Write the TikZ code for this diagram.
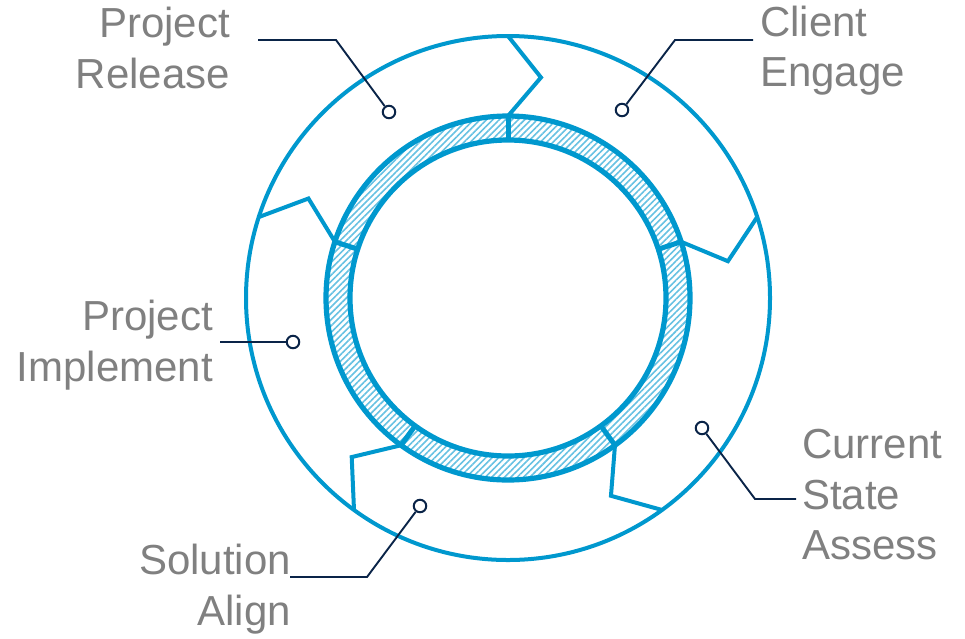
\documentclass[tikz,border=0pt]{standalone}
\usepackage{fontspec}
\setmainfont{Liberation Sans}
\usetikzlibrary{patterns.meta}
\definecolor{cblue}{RGB}{0,152,206}
\definecolor{navy}{RGB}{10,36,72}
\definecolor{tgray}{RGB}{128,128,128}
\tikzset{
  outerring/.style={draw=cblue, line width=4pt},
  ringline/.style={draw=cblue, line width=5.2pt},
  zig/.style={draw=cblue, line width=4pt, line join=miter},
  sepline/.style={draw=cblue, line width=5pt},
  hatch/.style={pattern={Lines[angle=45,distance=4.5pt,line width=1.6pt]}, pattern color=cblue!60},
  dot/.style={circle, draw=navy, fill=white, line width=2pt, minimum size=12.5pt, inner sep=0pt},
  callout/.style={draw=navy, line width=1.9pt},
  lbl/.style={text=tgray, font=\fontsize{42}{50}\selectfont, inner sep=0pt}
}
\begin{document}
\begin{tikzpicture}[x=1pt,y=-1pt]
\useasboundingbox (0,0) rectangle (965,638);
\begin{scope}[shift={(508,298)}]
  \fill[hatch, even odd rule] (0,0) circle (182pt) (0,0) circle (158pt);
  \draw[outerring] (0,0) circle (262pt);
  \draw[ringline] (0,0) circle (182pt);
  \draw[ringline] (0,0) circle (158pt);
  \foreach \a in {90,18,-54,-126,162} {
    \draw[zig] (-\a:182) -- (-\a+8.5:223) -- (-\a:262);
    \draw[sepline] (-\a:156) -- (-\a:184);
  }
\end{scope}
% callouts
\node[dot] (dRel) at (389,112) {};
\coordinate (kRel) at (336,40);
\coordinate (eRel) at (258,40);
\draw[callout] (dRel) -- (kRel) -- (eRel);
\node[dot] (dCli) at (622,110) {};
\coordinate (kCli) at (675,40);
\coordinate (eCli) at (753,40);
\draw[callout] (dCli) -- (kCli) -- (eCli);
\node[dot] (dImp) at (293,342) {};
\coordinate (eImp) at (220,342);
\draw[callout] (dImp) -- (eImp);
\node[dot] (dCur) at (702,428) {};
\coordinate (kCur) at (755,499);
\coordinate (eCur) at (796,499);
\draw[callout] (dCur) -- (kCur) -- (eCur);
\node[dot] (dSol) at (420,506) {};
\coordinate (kSol) at (367,577);
\coordinate (eSol) at (290,577);
\draw[callout] (dSol) -- (kSol) -- (eSol);
% labels
\node[lbl, anchor=base east] (rel1) at (230,37) {Project};
\node[lbl, anchor=base east] (rel2) at (230,88) {Release};
\node[lbl, anchor=base west] (cli1) at (760,36) {Client};
\node[lbl, anchor=base west] (cli2) at (760,86) {Engage};
\node[lbl, anchor=base east] (imp1) at (213,330) {Project};
\node[lbl, anchor=base east] (imp2) at (213,381) {Implement};
\node[lbl, anchor=base west] (cur1) at (802,458) {Current};
\node[lbl, anchor=base west] (cur2) at (802,509) {State};
\node[lbl, anchor=base west] (cur3) at (802,559) {Assess};
\node[lbl, anchor=base east] (sol1) at (291,574) {Solution};
\node[lbl, anchor=base east] (sol2) at (291,625) {Align};
\end{tikzpicture}
\end{document}
